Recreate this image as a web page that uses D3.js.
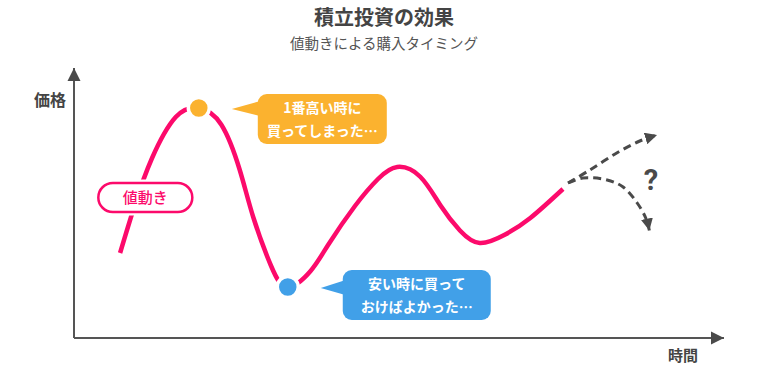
<!DOCTYPE html>
<html>
<head>
<meta charset="utf-8">
<script src="https://cdn.jsdelivr.net/npm/d3@7"></script>
<style>
  body { margin: 0; background: #fff; }
  svg { display: block; font-family: "Noto Sans CJK JP", "Noto Sans", sans-serif; }
</style>
</head>
<body>
<svg id="canvas" width="768" height="370"></svg>
<script>
// price movement (time 0-100, price 0-100)
var times  = [7.2, 9.5, 12.2, 15.9, 19.5, 23, 25.9, 28, 30.8, 33.4, 36.9, 39.7, 43.9, 47.5, 50.5, 54.1, 57.3, 60.3, 63.4, 67.3, 71.3, 76.4];
var prices = [34, 53.2, 72, 88.4, 92, 85.4, 67.2, 48.4, 28.8, 20.4, 26.6, 37.2, 52.8, 63.6, 68.4, 64.5, 52.9, 43, 38, 41.3, 48, 59.6];

// future guesses (dashed)
var upTimes    = [77.2, 80.6, 84.8, 88.4, 91.1];
var upPrices   = [62, 67.2, 74, 78.8, 81.2];
var downTimes  = [77.2, 79.5, 83.3, 85.8, 88, 89.4, 89.9];
var downPrices = [62, 64, 63.2, 60.4, 54, 47.6, 43];

var highIdx = 4;   // bought at the top
var lowIdx = 9;    // should have bought here

var highText = ['1番高い時に', '買ってしまった…'];
var lowText  = ['安い時に買って', 'おけばよかった…'];

var pink = '#fc0a6b', orange = '#fbb22f', blue = '#41a0e8', gray = '#4a4a4a';

var svg = d3.select('#canvas');

var x = d3.scaleLinear().domain([0, 100]).range([74, 714]);
var y = d3.scaleLinear().domain([0, 100]).range([338, 88]);

// title
svg.append('text').attr('x', 384).attr('y', 25).attr('text-anchor', 'middle')
    .attr('font-size', 20).attr('font-weight', 'bold').attr('fill', '#444').text('積立投資の効果');
svg.append('text').attr('x', 384).attr('y', 49).attr('text-anchor', 'middle')
    .attr('font-size', 14.5).attr('fill', '#555').text('値動きによる購入タイミング');

// axes
var defs = svg.append('defs');
function arrowMarker(id, w, h) {
    defs.append('marker').attr('id', id)
        .attr('viewBox', '0 0 10 10').attr('refX', 10).attr('refY', 5)
        .attr('markerUnits', 'userSpaceOnUse')
        .attr('markerWidth', w).attr('markerHeight', h)
        .attr('orient', 'auto')
        .append('path').attr('d', 'M0,0 L10,5 L0,10 Z').attr('fill', gray);
}
arrowMarker('axisArrow', 13, 14);
arrowMarker('dashArrow', 12, 12);

svg.append('line')
    .attr('x1', x(0)).attr('y1', y(0)).attr('x2', x(0)).attr('y2', 68)
    .attr('stroke', '#555').attr('stroke-width', 2).attr('marker-end', 'url(#axisArrow)');
svg.append('line')
    .attr('x1', x(0)).attr('y1', y(0)).attr('x2', 724).attr('y2', y(0))
    .attr('stroke', '#555').attr('stroke-width', 2).attr('marker-end', 'url(#axisArrow)');

svg.append('text').attr('x', 50).attr('y', 106).attr('text-anchor', 'middle')
    .attr('font-size', 16).attr('font-weight', 'bold').attr('fill', '#444').text('価格');
svg.append('text').attr('x', 683).attr('y', 361).attr('text-anchor', 'middle')
    .attr('font-size', 15).attr('font-weight', 'bold').attr('fill', '#444').text('時間');

// price line
var pts = times.map(function(t, i) { return [t, prices[i]]; });
var line = d3.line().x(function(d) { return x(d[0]); }).y(function(d) { return y(d[1]); })
    .curve(d3.curveNatural);

svg.append('path').datum(pts).attr('d', line)
    .attr('fill', 'none').attr('stroke', pink).attr('stroke-width', 4.5);

// dashed future lines
var dashLine = d3.line().x(function(d) { return x(d[0]); }).y(function(d) { return y(d[1]); })
    .curve(d3.curveCatmullRom.alpha(0.5));
function dashed(ts, ps) {
    var d = ts.map(function(t, i) { return [t, ps[i]]; });
    svg.append('path').datum(d).attr('d', dashLine)
        .attr('fill', 'none').attr('stroke', gray).attr('stroke-width', 3)
        .attr('stroke-dasharray', '8,5').attr('marker-end', 'url(#dashArrow)');
}
dashed(upTimes, upPrices);
dashed(downTimes, downPrices);

svg.append('text').attr('x', 651).attr('y', 190).attr('text-anchor', 'middle')
    .attr('font-size', 29).attr('font-weight', 'bold').attr('fill', gray)
    .attr('font-family', 'Roboto, sans-serif').text('?');

// label pill
var pill = svg.append('g');
var pillX = x(3.8), pillY = y(62);
pill.append('rect').attr('x', pillX).attr('y', pillY).attr('width', 94).attr('height', 29)
    .attr('rx', 14.5).attr('fill', '#fff').attr('stroke', '#fff').attr('stroke-width', 7);
pill.append('rect').attr('x', pillX).attr('y', pillY).attr('width', 94).attr('height', 29)
    .attr('rx', 14.5).attr('fill', '#fff').attr('stroke', pink).attr('stroke-width', 2.5);
pill.append('text').attr('x', pillX + 47).attr('y', pillY + 20).attr('text-anchor', 'middle')
    .attr('font-size', 15).attr('font-weight', 500).attr('fill', pink).text('値動き');

// dots + callouts
function callout(idx, color, lines, dx, dy, w) {
    var cx = x(times[idx]), cy = y(prices[idx]);
    svg.append('circle').attr('cx', cx).attr('cy', cy).attr('r', 10.5)
        .attr('fill', color).attr('stroke', '#fff').attr('stroke-width', 3.5);
    var rx = cx + dx, ry = cy + dy, h = 50;
    svg.append('path')
        .attr('d', 'M' + (cx + 33) + ',' + (cy + 1) + ' L' + (rx + 6) + ',' + (cy - 8) + ' L' + (rx + 6) + ',' + (cy + 9) + ' Z')
        .attr('fill', color);
    svg.append('rect').attr('x', rx).attr('y', ry).attr('width', w).attr('height', h)
        .attr('rx', 9).attr('fill', color);
    lines.forEach(function(s, i) {
        svg.append('text').attr('x', rx + w / 2).attr('y', ry + 19 + i * 23)
            .attr('text-anchor', 'middle').attr('font-size', 14).attr('font-weight', 'bold')
            .attr('fill', '#fff').text(s);
    });
}
callout(highIdx, orange, highText, 59, -14, 129);
callout(lowIdx, blue, lowText, 55, -17, 148);
</script>
</body>
</html>
